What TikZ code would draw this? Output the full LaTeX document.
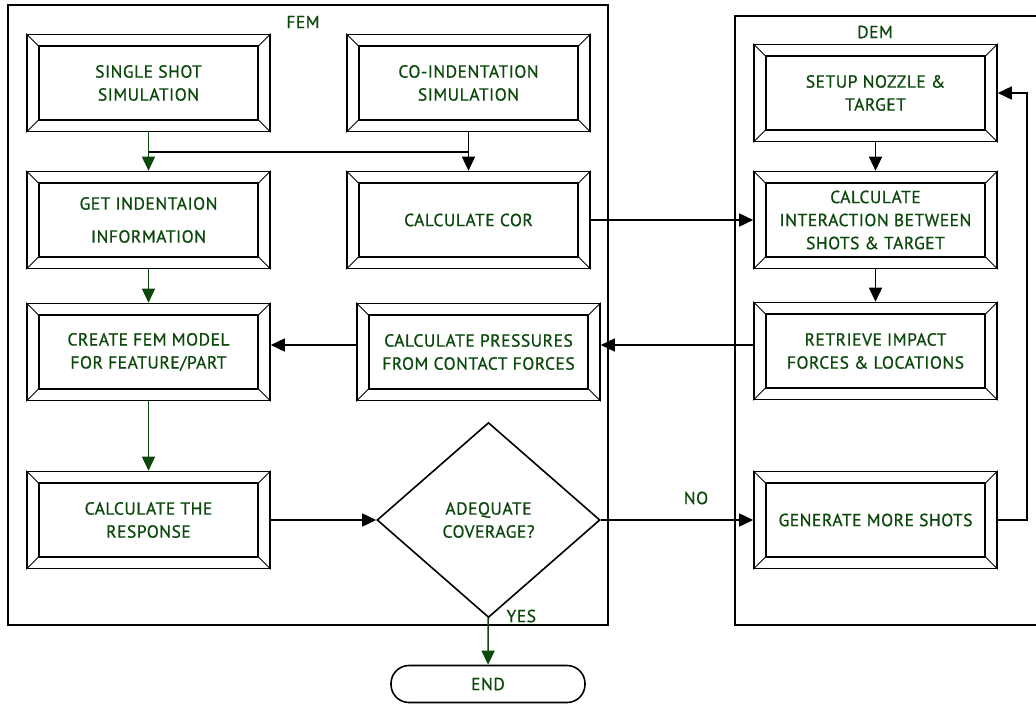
\documentclass[tikz,border=0pt]{standalone}
\usepackage{fontspec}
\setmainfont{PT Sans}
\newfontfamily\boxfont{PT Sans}[FakeBold=0.8,LetterSpace=3]
\usetikzlibrary{arrows.meta,shapes.geometric}
\definecolor{dkgreen}{RGB}{12,72,12}

\begin{document}
\begin{tikzpicture}[x=1pt,y=-1pt,
  box/.style={draw,line width=1.6pt,minimum width=243pt,minimum height=97pt,
    inner sep=0pt,align=center,text=dkgreen,font=\boxfont\fontsize{17.5}{23}\selectfont},
  lbl/.style={text=dkgreen,font=\boxfont\fontsize{17.5}{20}\selectfont},
  arr/.style={line width=1.6pt,-{Triangle[width=13pt,length=14pt]}},
  garr/.style={arr,draw=dkgreen,fill=dkgreen}]
\useasboundingbox (0,0) rectangle (1036,705);
% the two frames
\draw[line width=1.5pt] (8,5) rectangle (608,625);
\draw[line width=1.5pt] (735,16) rectangle (1045,625);
\node[lbl] (fem) at (303,22) {FEM};
\node[lbl] (dem) at (875,32) {DEM};
% FEM part
\node[box] (single) at (148.5,83) {SINGLE SHOT\\SIMULATION};
\node[box] (coind) at (468.5,83) {CO-INDENTATION\\SIMULATION};
\node[box] (getind) at (148.5,220) {GET INDENTAION\\[10pt]INFORMATION};
\node[box] (cor) at (468.5,220) {CALCULATE COR};
\node[box] (create) at (148.5,352) {CREATE FEM MODEL\\FOR FEATURE/PART};
\node[box] (press) at (478.5,352) {CALCULATE PRESSURES\\FROM CONTACT FORCES};
\node[box] (resp) at (148.5,520) {CALCULATE THE\\RESPONSE};
\node[draw,line width=1.6pt,diamond,aspect=1.14,minimum width=223pt,
  minimum height=195pt,inner sep=0pt,align=center,text=dkgreen,
  font=\boxfont\fontsize{17.5}{23}\selectfont] (adeq) at (488.5,520) {ADEQUATE\\COVERAGE?};
\node[draw,line width=1.6pt,rounded corners=18pt,minimum width=194pt,
  minimum height=37pt,lbl] (end) at (488,684) {END};
% DEM part
\node[box] (setup) at (875.5,93) {SETUP NOZZLE \&\\TARGET};
\node[box] (inter) at (875.5,220) {CALCULATE\\INTERACTION BETWEEN\\SHOTS \& TARGET};
\node[box] (retr) at (875.5,351) {RETRIEVE IMPACT\\FORCES \& LOCATIONS};
\node[box] (gen) at (875.5,520) {GENERATE MORE SHOTS};
% bevels
\foreach \n in {single,coind,getind,cor,create,press,resp,setup,inter,retr,gen}{
  \draw[line width=1.8pt] ([shift={(12.5,12.5)}]\n.north west) rectangle ([shift={(-12.5,-12.5)}]\n.south east);
  \draw[line width=0.8pt] (\n.north west) -- ++(12.5,12.5);
  \draw[line width=0.8pt] (\n.north east) -- ++(-12.5,12.5);
  \draw[line width=0.8pt] (\n.south west) -- ++(12.5,-12.5);
  \draw[line width=0.8pt] (\n.south east) -- ++(-12.5,-12.5);
}
% connectors
\draw[garr] (single) -- (getind);
\draw[line width=1.6pt] (single.south |- 0,152) -- (coind.south |- 0,152);
\draw[arr] (coind) -- (cor);
\draw[garr] (getind) -- (create);
\draw[garr] (create) -- (resp);
\draw[arr] (resp) -- (adeq);
\draw[garr] (adeq) -- (end);
\node[lbl,anchor=west] (yes) at (503,616) {YES};
\draw[arr] (adeq) -- (gen);
\node[lbl] (no) at (696,498) {NO};
\draw[arr] (cor) -- (inter);
\draw[arr] (setup) -- (inter);
\draw[arr] (inter) -- (retr);
\draw[arr] ([yshift=6pt]retr.west) -- ([yshift=7pt]press.east);
\draw[arr] ([yshift=7pt]press.west) -- ([yshift=7pt]create.east);
\draw[arr] (gen.east) -- ++(29,0) |- (setup.east);
\end{tikzpicture}
\end{document}
